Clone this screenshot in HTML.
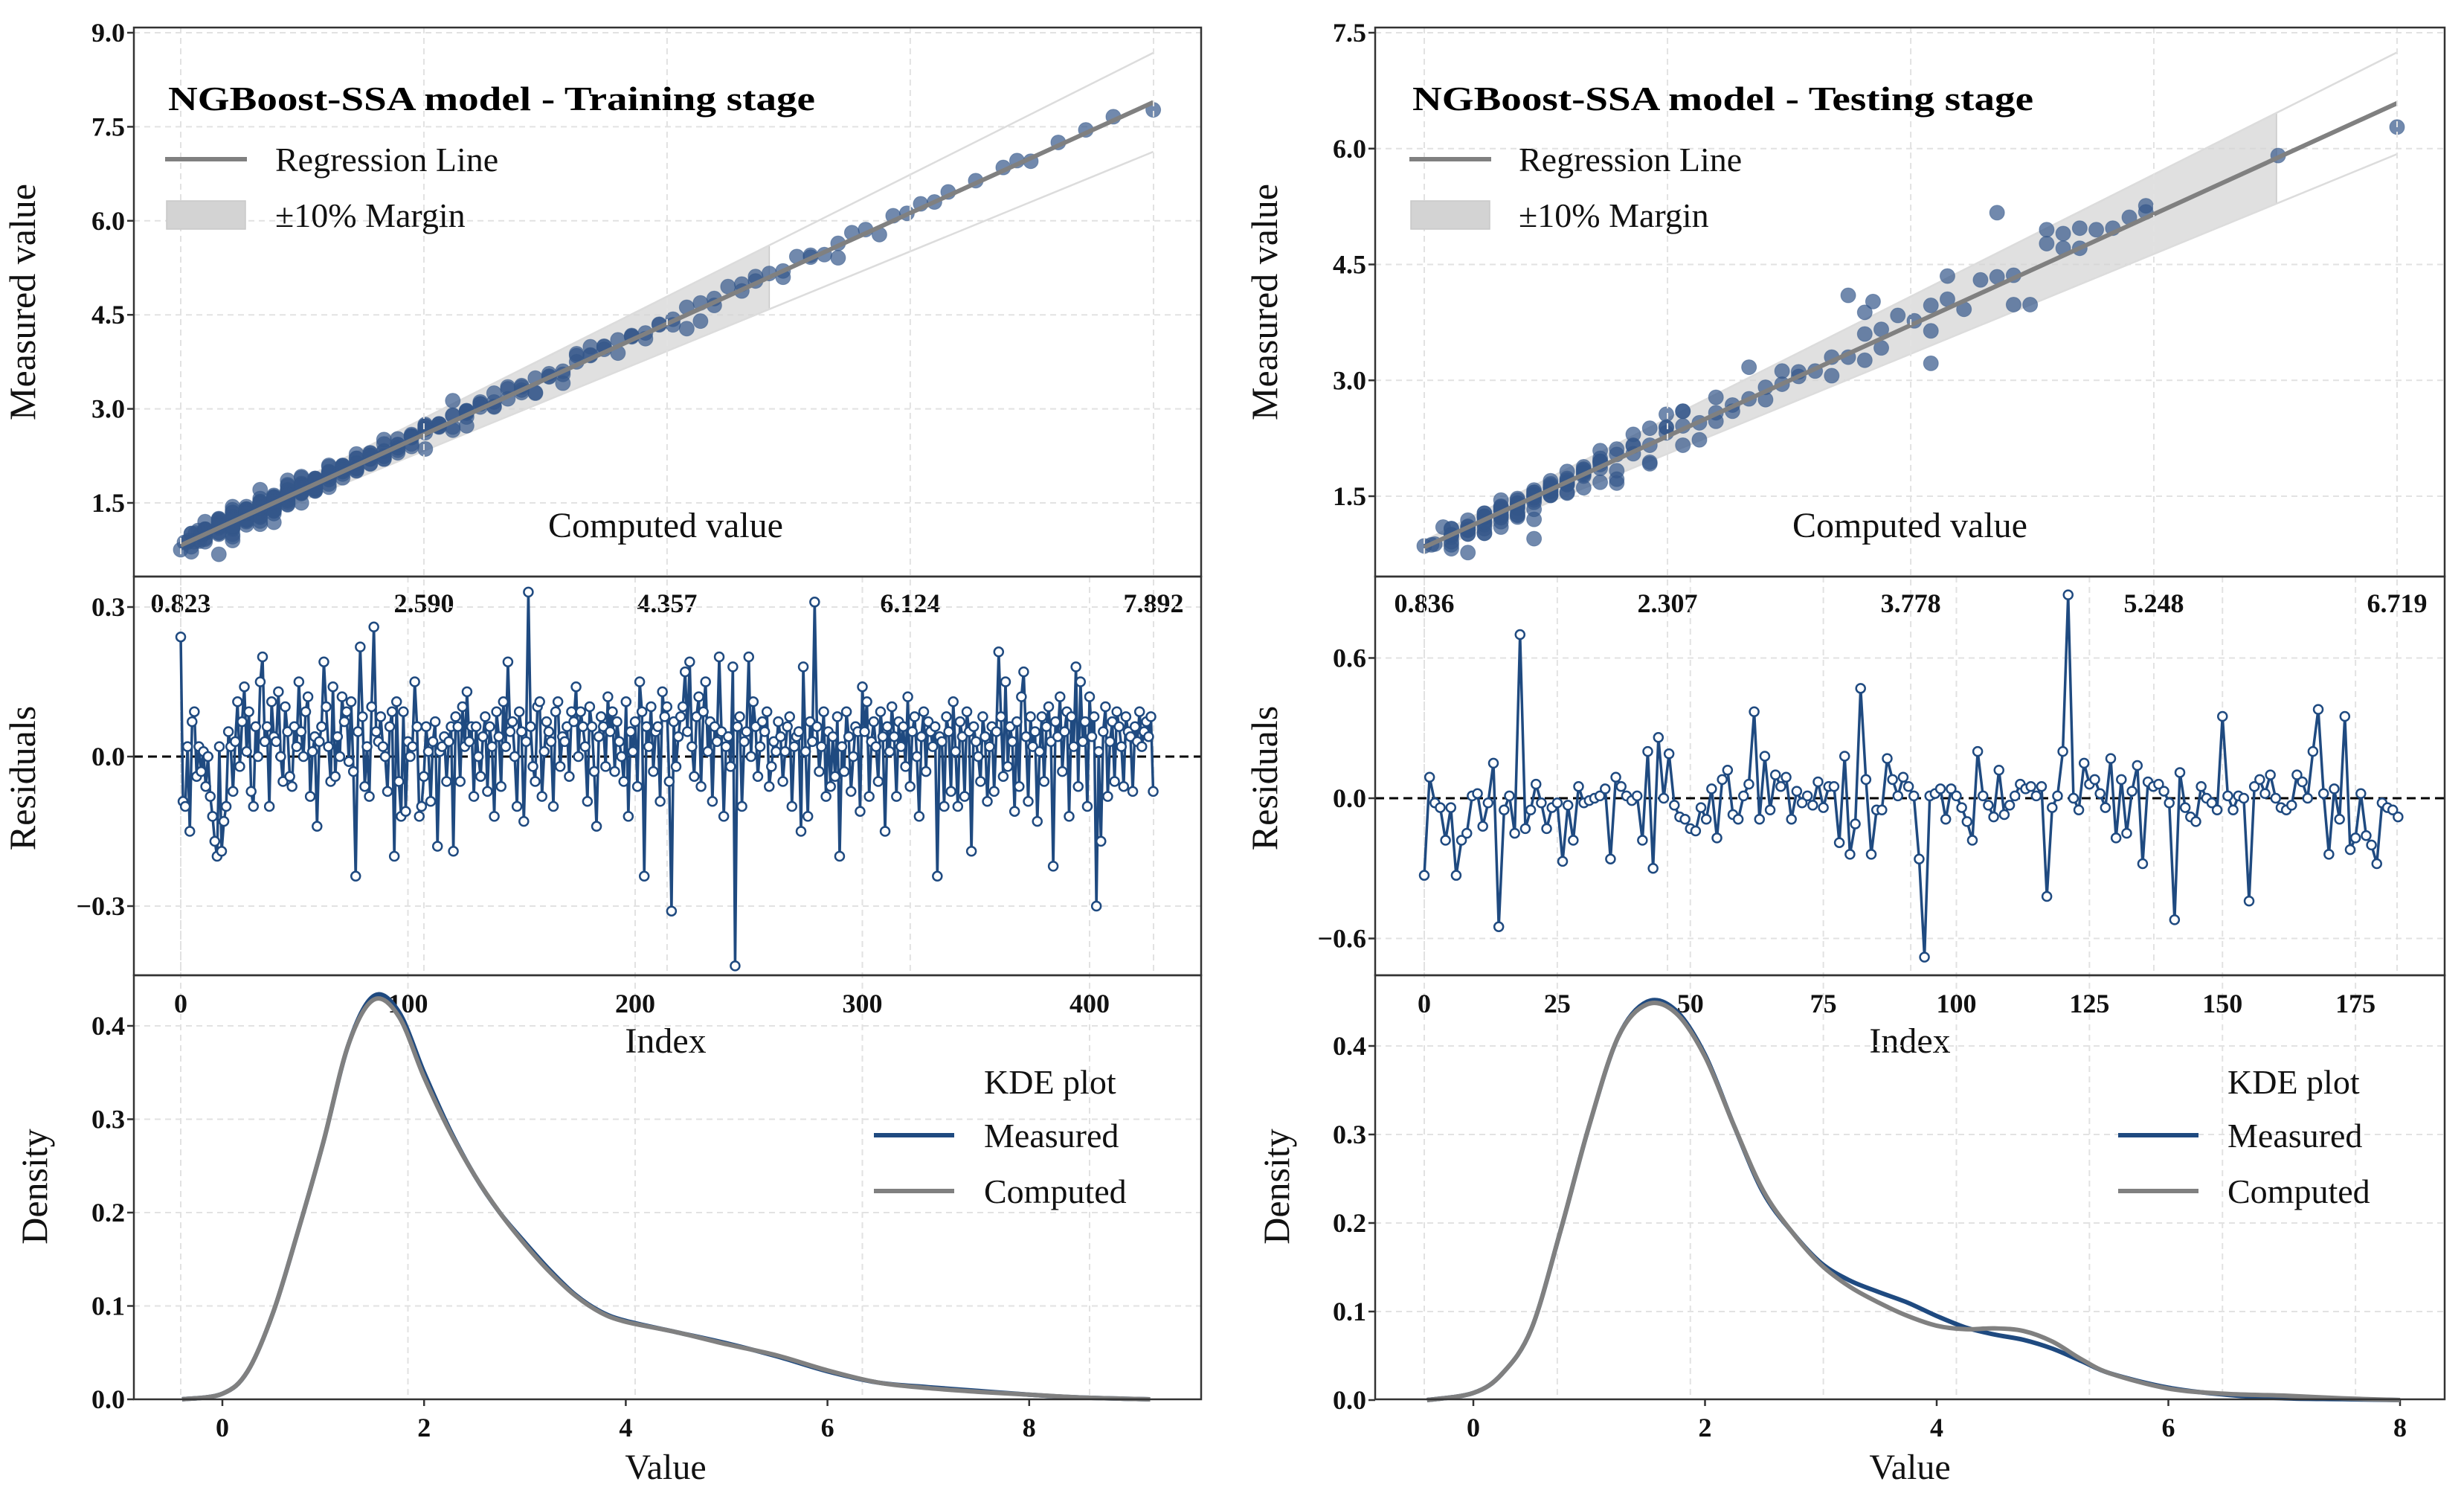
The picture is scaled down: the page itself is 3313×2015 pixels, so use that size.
<!DOCTYPE html>
<html><head><meta charset="utf-8"><title>NGBoost-SSA results</title>
<style>html,body{margin:0;padding:0;background:#fff}svg{display:block}text{font-family:"Liberation Serif",serif}</style>
</head><body>
<svg id="fig" xmlns="http://www.w3.org/2000/svg" width="3313" height="2015" viewBox="0 0 3313 2015"></svg>
<script>
// ---------- DATA ----------
const trainResiduals=[.24,-.09,-.1,.02,-.15,.07,.09,-.04,.02,-.03,.01,-.06,.0,-.08,-.12,-.17,-.2,.02,-.19,-.13,
-.1,.05,.02,-.07,.03,.11,-.02,.07,.14,.01,.09,-.07,-.1,.06,.0,.15,.2,.03,.06,-.1,
.11,.04,.03,.13,.0,-.05,.1,.05,-.04,-.06,.06,.02,.15,.05,.0,.09,.12,-.08,.01,.04,
-.14,.03,.06,.19,.1,.02,-.05,.14,-.04,.04,.0,.12,.07,.09,-.01,.11,-.03,-.24,.05,.22,
.08,-.06,.02,-.08,.1,.26,.05,.03,.08,.02,.0,-.07,.06,.09,-.2,.11,-.05,-.12,.09,-.11,
.03,.0,.02,.15,.06,-.12,-.1,-.04,.06,.01,-.09,.03,.07,-.18,.01,.02,.04,-.05,.03,.06,
-.19,.08,.06,-.05,.1,.02,.13,.03,.06,-.08,.06,.0,-.04,.04,.08,-.07,.06,.02,-.12,.09,
.04,-.06,.11,.02,.19,.05,.07,.0,-.1,.09,.05,-.13,.03,.33,.06,-.02,-.05,.1,.11,-.08,
.01,.07,.05,.03,-.1,.09,.11,-.02,.04,.03,.06,-.04,.09,.07,.14,.0,.09,.06,.02,-.09,
.1,.06,-.03,-.14,.04,.08,.06,-.02,.12,.05,.09,-.03,.07,.03,.0,-.05,.11,-.12,.05,.01,
.07,-.06,.15,.09,-.24,.06,.02,.1,-.03,.05,.06,-.09,.13,.08,.1,-.05,-.31,.07,-.02,.04,
.08,.1,.17,.05,.19,.02,-.04,.08,.12,-.06,.09,.15,.01,.07,-.09,.06,.03,.2,.05,-.12,
.02,.04,-.02,.18,-.42,.06,.08,-.1,.03,.05,.2,.0,.11,.06,-.04,.02,.07,.05,.09,-.06,
-.02,.03,.01,.07,.04,-.05,.01,.06,.08,-.1,.02,.04,.05,-.15,.18,.01,-.12,.07,.03,.31,
.06,-.03,.02,.09,-.08,.05,-.06,.04,-.04,.08,-.2,.02,-.03,.09,.04,-.07,.0,.06,.05,-.11,
.14,.05,.11,-.08,.03,.07,.02,-.05,.09,.04,-.15,.06,.01,.1,.04,-.08,.07,.02,.06,-.02,
.12,-.06,.05,.08,.0,-.12,.04,.09,-.03,.07,.05,.02,.06,-.24,.04,.03,-.1,.08,.05,-.07,
.11,.01,-.1,.07,.04,-.08,.09,.05,-.19,.06,.03,.0,-.05,.08,.04,-.09,.02,.06,-.07,.05,
.21,.08,-.04,.15,-.02,.06,.03,-.11,.07,-.06,.12,.17,.04,-.09,.08,.02,.05,-.13,.01,.08,
-.05,.06,.1,.03,-.22,.07,.04,.12,-.03,.05,.09,-.12,.08,.02,.18,-.06,.15,.03,.07,-.1,
.12,.04,.08,-.3,.01,-.17,.05,.1,-.08,.03,.07,-.05,.09,.06,.02,-.06,.08,.05,.04,-.07,
.06,.03,.09,.02,.05,.07,.04,.08,-.07];
const trainComputed=[1.2,2.1,0.9,1.6,3.4,1.1,2.6,1.4,0.85,1.8,4.2,1.3,2.0,1.0,1.5,2.9,1.7,1.2,5.6,1.4,
2.3,1.0,1.6,3.1,1.3,0.95,1.9,2.5,1.1,1.5,4.6,1.8,1.2,2.2,1.4,3.7,1.0,1.6,2.7,1.3,
0.9,1.7,2.4,1.1,6.3,1.5,2.0,1.2,3.3,1.4,1.8,0.88,2.6,1.3,1.6,4.9,1.1,2.1,1.5,1.0,
2.8,1.4,1.7,1.2,3.9,1.9,1.3,2.3,0.92,1.6,5.2,1.5,2.0,1.1,1.8,3.0,1.4,1.2,2.5,1.7,
1.0,4.4,1.5,2.2,1.3,1.6,7.4,1.1,1.9,2.7,1.4,0.96,3.5,1.7,1.2,2.1,1.5,5.9,1.3,1.8,
2.4,1.1,1.6,3.2,1.4,1.0,2.0,1.7,4.1,1.2,1.5,2.9,1.3,0.9,1.8,2.3,6.6,1.4,1.6,1.1,
3.6,1.9,1.3,2.1,1.5,1.0,2.6,1.7,4.7,1.2,1.4,2.2,0.95,1.6,3.0,1.8,1.3,5.4,1.5,2.0,
1.1,2.5,1.4,1.7,3.8,1.2,1.9,0.87,2.3,1.5,4.3,1.6,1.3,2.8,1.0,1.8,7.0,1.4,2.1,1.2,
1.6,3.3,1.5,1.0,2.4,1.7,5.0,1.3,1.9,1.1,2.7,1.4,3.9,1.6,1.2,2.0,0.93,1.5,6.1,1.8,
2.2,1.3,1.7,3.4,1.4,1.1,2.5,1.6,4.5,1.2,1.9,2.9,1.5,1.0,1.8,2.3,5.7,1.4,1.3,2.0,
1.5,3.1,1.2,1.8,2.6,1.4,0.98,4.0,1.7,1.3,2.2,1.6,5.3,1.1,1.9,3.6,1.5,1.2,2.4,1.7,
1.0,2.8,1.4,6.8,1.6,1.3,2.1,1.8,3.2,1.5,1.1,4.8,1.7,2.5,1.2,1.4,3.0,1.9,1.6,7.89,
1.3,2.0,1.5,3.7,1.1,1.8,2.6,1.4,4.4,1.2,1.7,2.2,0.9,1.6,5.5,1.5,2.9,1.3,1.9,1.0,
2.4,1.6,3.5,1.2,1.8,2.1,1.4,6.4,1.5,1.1,2.7,1.7,4.1,1.3,1.9,3.1,1.6,1.2,2.3,1.4,
5.1,1.8,1.0,2.5,1.5,3.8,1.3,1.7,2.0,1.4,4.6,1.2,1.9,2.8,1.6,1.1,3.3,1.5,7.2,1.8,
1.3,2.2,1.6,4.2,1.4,1.0,2.6,1.7,3.4,1.2,1.9,5.8,1.5,1.3,2.1,1.8,2.9,1.1,1.6,4.9,
1.4,2.4,1.7,1.2,3.6,1.5,0.97,2.0,1.8,6.2,1.3,1.6,2.7,1.4,4.3,1.1,1.9,3.0,1.5,2.2,
1.7,1.2,5.2,1.6,2.5,1.3,1.8,3.9,1.4,1.0,2.1,1.5,4.7,1.7,1.2,2.8,1.6,6.9,1.3,1.9,
2.3,1.4,3.2,1.1,1.7,2.0,1.5,4.0,1.3,1.8,2.6,1.6,5.6,1.2,1.4,3.5,1.9,1.5,2.2,1.0,
1.6,2.9,1.3,1.8,4.5,1.4,1.1,2.4,1.7,3.7,1.5,1.2,6.0,1.9,2.1,1.6,3.1,1.3,1.8,2.5,
1.4,5.0,1.7,1.2,2.7,1.5,3.3,1.6,1.1,2.0,4.1,1.8,1.3,7.6,1.5,2.3,1.4,2.9,1.7,1.2,
3.8,1.6,2.2,1.4,5.4,1.9,1.3,2.6,0.823];
const testResiduals=[-.33,.09,-.02,-.04,-.18,-.04,-.33,-.18,-.15,.01,.02,-.12,-.02,.15,-.55,-.05,.01,-.15,.70,-.13,
-.05,.06,-.02,-.13,-.04,-.02,-.27,-.03,-.18,.05,-.02,-.01,.0,.01,.04,-.26,.09,.05,.01,-.01,
.01,-.18,.2,-.3,.26,.0,.19,-.03,-.08,-.09,-.13,-.14,-.04,-.09,.04,-.17,.08,.12,-.07,-.09,
.01,.06,.37,-.09,.18,-.05,.1,.05,.09,-.09,.03,-.02,.01,-.03,.07,-.04,.05,.05,-.19,.18,
-.24,-.11,.47,.08,-.24,-.05,-.05,.17,.08,.01,.09,.05,.01,-.26,-.68,.01,.02,.04,-.09,.04,
.01,-.04,-.1,-.18,.2,.01,-.03,-.08,.12,-.07,-.03,.01,.06,.04,.05,.01,.05,-.42,-.04,.01,
.2,.87,.0,-.05,.15,.06,.08,.02,-.04,.17,-.17,.08,-.15,.03,.14,-.28,.07,.05,.06,.03,
-.02,-.52,.11,-.04,-.08,-.1,.05,.0,-.02,-.05,.35,.01,-.05,.01,.0,-.44,.05,.08,.02,.1,
.0,-.04,-.05,-.03,.1,.07,.0,.2,.38,.02,-.24,.04,-.09,.35,-.22,-.17,.02,-.16,-.2,-.28,
-.02,-.04,-.05,-.08];
const testComputed=[1.1,2.3,0.9,1.6,3.6,1.3,2.0,1.0,1.4,4.7,1.8,1.2,2.7,0.95,1.5,3.1,1.1,1.7,3.4,1.3,
2.1,1.6,5.2,1.0,1.9,1.4,2.5,1.2,4.1,1.5,1.8,0.88,3.3,1.3,1.6,2.2,1.1,4.9,1.4,1.7,
2.9,1.2,2.4,1.5,2.3,1.0,1.9,3.8,1.3,1.6,2.6,1.4,4.4,1.1,1.8,2.0,1.5,3.0,1.2,6.0,
1.6,1.3,2.8,1.0,2.2,1.7,3.5,1.4,1.9,4.8,1.2,1.5,2.4,1.1,3.9,1.6,1.3,2.1,1.8,2.6,
3.3,1.4,3.55,1.0,3.5,1.7,1.5,4.6,1.2,1.9,2.3,1.5,5.1,3.9,3.9,1.3,1.6,2.0,1.1,4.3,
1.4,1.8,2.7,1.2,2.4,1.5,1.0,3.2,1.7,1.3,5.0,1.6,2.1,1.2,4.0,1.5,1.9,4.4,1.1,1.4,
4.7,4.3,1.6,2.5,1.3,3.6,1.8,1.2,2.2,4.8,1.5,1.0,2.9,1.7,3.7,2.2,1.4,1.9,5.2,1.3,
1.6,4.5,2.0,1.2,1.5,3.4,1.8,1.1,2.6,1.4,4.6,1.7,1.3,3.1,1.5,6.719,1.9,1.2,2.3,1.6,
1.0,2.8,1.4,1.7,4.2,1.3,1.8,2.1,3.5,1.5,2.4,1.2,1.6,4.0,1.9,1.4,0.836,1.7,1.3,2.0,
1.5,1.1,3.0,1.6];
const trainTopTicks=["0.823","2.590","4.357","6.124","7.892"];
const testTopTicks=["0.836","2.307","3.778","5.248","6.719"];
const trainYTicks=[1.5,3.0,4.5,6.0,7.5,9.0];
const testYTicks=[1.5,3.0,4.5,6.0,7.5];
const trainResTicks=[-0.3,0.0,0.3];
const testResTicks=[-0.6,0.0,0.6];
const trainIndexTicks=[0,100,200,300,400];
const testIndexTicks=[0,25,50,75,100,125,150,175];
const densityTicks=[0.0,0.1,0.2,0.3,0.4];
const valueTicks=[0,2,4,6,8];
const trainRegression=[0.0,1.0];   // intercept, slope
const testRegression=[0.023,0.977];
const trainShadeEnd=[5.1];
const testShadeEnd=[5.99];
const trainKdeX=[-0.4,0,0.25,0.5,0.75,1,1.25,1.5,1.75,2,2.25,2.5,2.75,3,3.25,3.5,3.75,4,4.5,5,5.5,6,6.5,7,7.5,8,8.5,9.2];
const trainKdeMeasured=[0,.006,.03,.092,.18,.275,.38,.432,.415,.35,.29,.24,.2,.168,.138,.112,.094,.084,.072,.06,.046,.03,.018,.013,.009,.005,.002,0];
const trainKdeComputed=[0,.006,.03,.092,.18,.275,.38,.428,.41,.345,.288,.24,.2,.166,.136,.111,.093,.083,.072,.059,.047,.031,.018,.012,.008,.005,.002,0];
const testKdeX=[-0.4,0,0.25,0.5,0.75,1,1.25,1.5,1.75,2,2.25,2.5,2.75,3,3.25,3.5,3.75,4,4.25,4.5,4.75,5,5.25,5.5,6,6.5,7,7.5,8];
const testKdeMeasured=[0,.008,.03,.08,.19,.31,.41,.45,.44,.39,.31,.235,.19,.155,.135,.122,.11,.095,.082,.074,.068,.058,.044,.03,.014,.006,.002,.001,0];
const testKdeComputed=[0,.008,.03,.08,.19,.31,.41,.447,.437,.388,.31,.237,.19,.153,.128,.11,.095,.084,.08,.081,.078,.066,.046,.03,.013,.007,.005,.002,0];

// ---------- DRAW ----------
const NS="http://www.w3.org/2000/svg";
const svg=document.getElementById('fig');
function mk(tag,attrs,parent){const e=document.createElementNS(NS,tag);for(const k in attrs)e.setAttribute(k,attrs[k]);(parent||svg).appendChild(e);return e;}
function txt(s,attrs,parent){const t=mk('text',attrs,parent);t.textContent=s;return t;}
function lin(a,b,c,d){return v=>c+(v-a)*(d-c)/(b-a);}
function smooth(pts){let d='M'+pts[0][0]+','+pts[0][1];for(let i=0;i<pts.length-1;i++){const p0=pts[Math.max(0,i-1)],p1=pts[i],p2=pts[i+1],p3=pts[Math.min(pts.length-1,i+2)];
const c1=[p1[0]+(p2[0]-p0[0])/6,p1[1]+(p2[1]-p0[1])/6],c2=[p2[0]-(p3[0]-p1[0])/6,p2[1]-(p3[1]-p1[1])/6];d+=' C'+c1+' '+c2+' '+p2;}return d;}
const GRID='#e2e2e2',DARK='#1f4a80',FRAME='#333';
const BOLD={'font-size':36,'font-weight':'bold','fill':'#111'};

function panel(P){
  const g=mk('g',{});
  
  
  const {x0,x1}=P;
  // ===== Scatter =====
  const sx=lin(P.topX[0],P.topX[1],P.topPx[0],P.topPx[1]);
  const sy=lin(P.topY[0],P.topY[1],P.topPy[0],P.topPy[1]);
  const yT=37,yM=775,yR=1311,yB=1881;
  const sg=mk('g',{'clip-path':'url(#clip-'+P.name+'-top)'},g);
  const cp=mk('clipPath',{id:'clip-'+P.name+'-top'},g);mk('rect',{x:x0,y:yT,width:x1-x0,height:yM-yT},cp);
  P.yTicks.forEach(v=>{const l=mk('line',{x1:x0,x2:x1,y1:sy(v),y2:sy(v),stroke:GRID,'stroke-width':2,'stroke-dasharray':'8,6'},sg);
    });
  const xs=P.comp.slice().sort((a,b)=>a-b);const xmin=xs[0],xmax=xs[xs.length-1];
  const tickVals=P.topTicks.map(Number);
  tickVals.forEach(v=>{mk('line',{x1:sx(v),x2:sx(v),y1:yT,y2:yR,stroke:GRID,'stroke-width':2,'stroke-dasharray':'8,6'},g);});
  const reg=v=>P.reg[0]+P.reg[1]*v;
  const se=P.shade[0];
  const band=mk('polygon',{points:[[sx(xmin),sy(reg(xmin)*1.1)],[sx(se),sy(reg(se)*1.1)],[sx(se),sy(reg(se)*0.9)],[sx(xmin),sy(reg(xmin)*0.9)]].map(p=>p.join(',')).join(' '),fill:'#d3d3d3','fill-opacity':0.7,stroke:'#c8c8c8','stroke-width':1.5},sg);
  
  [1.1,0.9].forEach(f=>{const l=mk('line',{x1:sx(xmin),y1:sy(reg(xmin)*f),x2:sx(xmax),y2:sy(reg(xmax)*f),stroke:'#dcdcdc','stroke-width':2.5},sg);
    });
  P.comp.forEach((c,i)=>{const m=c+P.res[i];const p=mk('circle',{cx:sx(c),cy:sy(m),r:10,fill:'#34578a','fill-opacity':0.7,stroke:'#34578a','stroke-opacity':0.5,'stroke-width':1},sg);
    });
  const rl=mk('line',{x1:sx(xmin),y1:sy(reg(xmin)),x2:sx(xmax),y2:sy(reg(xmax)),stroke:'#808080','stroke-width':6},sg);
  
  P.yTicks.forEach(v=>{mk('line',{x1:x0-9,x2:x0,y1:sy(v),y2:sy(v),stroke:FRAME,'stroke-width':2.5},g);
    const t=txt(v.toFixed(1),Object.assign({x:x0-12,y:sy(v)+12,'text-anchor':'end'},BOLD),g);});
  tickVals.forEach((v,i)=>{const t=txt(P.topTicks[i],Object.assign({x:sx(v),y:823,'text-anchor':'middle'},BOLD),g);});
  // legend
  const tt=txt(P.title,{x:P.lg[0],y:148,'font-size':46,'font-weight':'bold',fill:'#000',textLength:P.titleLen,lengthAdjust:'spacingAndGlyphs'},g);
  
  mk('line',{x1:P.lg[0]-4,x2:P.lg[0]+106,y1:214,y2:214,stroke:'#808080','stroke-width':6},g);
  let t=txt('Regression Line',{x:P.lg[1],y:230,'font-size':46,fill:'#111'},g);
  mk('rect',{x:P.lg[0]-2,y:270,width:106,height:38,fill:'#d3d3d3',stroke:'#c8c8c8','stroke-width':1.5},g);
  t=txt('±10% Margin',{x:P.lg[1],y:305,'font-size':46,fill:'#111'},g);
  t=txt('Computed value',{x:P.cvx,y:722,'font-size':48,'text-anchor':'middle',fill:'#111'},g);
  t=txt('Measured value',{x:0,y:0,'font-size':50,'text-anchor':'middle',fill:'#111',transform:'translate('+(P.ylx+17)+',406) rotate(-90)'},g);

  // ===== Residuals =====
  const rx=lin(0,1,P.resPx[0],P.resPx[0]+P.resPx[1]);
  const ry=lin(0,1,P.resPy[0],P.resPy[0]-P.resPy[1]);
  P.resTicks.forEach(v=>{if(v!==0)mk('line',{x1:x0,x2:x1,y1:ry(v),y2:ry(v),stroke:GRID,'stroke-width':2,'stroke-dasharray':'8,6'},g);
    mk('line',{x1:x0-9,x2:x0,y1:ry(v),y2:ry(v),stroke:FRAME,'stroke-width':2.5},g);
    const t=txt((v<0?'\u2212':'')+Math.abs(v).toFixed(1),Object.assign({x:x0-12,y:ry(v)+12,'text-anchor':'end'},BOLD),g);});
  P.idxTicks.forEach(v=>{mk('line',{x1:rx(v),x2:rx(v),y1:yM,y2:yB,stroke:GRID,'stroke-width':2,'stroke-dasharray':'8,6'},g);
    const t=txt(String(v),Object.assign({x:rx(v),y:1361,'text-anchor':'middle'},BOLD),g);});
  const zl=mk('line',{x1:x0,x2:x1,y1:ry(0),y2:ry(0),stroke:'#000','stroke-width':3,'stroke-dasharray':'12,7'},g);
  
  const rp=mk('polyline',{points:P.res.map((r,i)=>rx(i)+','+ry(r)).join(' '),fill:'none',stroke:DARK,'stroke-width':3.5},g);
  
  P.res.forEach((r,i)=>{const c=mk('circle',{cx:rx(i),cy:ry(r),r:6,fill:'#fff',stroke:DARK,'stroke-width':2.5},g);
    });
  t=txt('Index',{x:P.cvx,y:1415,'font-size':48,'text-anchor':'middle',fill:'#111'},g);
  t=txt('Residuals',{x:0,y:0,'font-size':50,'text-anchor':'middle',fill:'#111',transform:'translate('+(P.ylx+17)+',1046) rotate(-90)'},g);

  // ===== KDE =====
  const kx=lin(0,1,P.kPx[0],P.kPx[0]+P.kPx[1]);
  const ky=lin(0,1,P.kPy[0],P.kPy[0]-P.kPy[1]);
  densityTicks.forEach(v=>{if(v>0)mk('line',{x1:x0,x2:x1,y1:ky(v),y2:ky(v),stroke:GRID,'stroke-width':2,'stroke-dasharray':'8,6'},g);
    mk('line',{x1:x0-9,x2:x0,y1:ky(v),y2:ky(v),stroke:FRAME,'stroke-width':2.5},g);
    const t=txt(v.toFixed(1),Object.assign({x:x0-12,y:ky(v)+12,'text-anchor':'end'},BOLD),g);});
  valueTicks.forEach(v=>{mk('line',{x1:kx(v),x2:kx(v),y1:yB,y2:yB+9,stroke:FRAME,'stroke-width':2.5},g);
    const t=txt(String(v),Object.assign({x:kx(v),y:1931,'text-anchor':'middle'},BOLD),g);});
  const pm=mk('path',{d:smooth(P.kX.map((x,i)=>[kx(x),ky(P.kM[i])])),fill:'none',stroke:DARK,'stroke-width':6},g);
  
  const pc=mk('path',{d:smooth(P.kX.map((x,i)=>[kx(x),ky(P.kC[i])])),fill:'none',stroke:'#808080','stroke-width':6},g);
  
  t=txt('KDE plot',{x:P.kl[1],y:1470,'font-size':46,fill:'#111'},g);
  mk('line',{x1:P.kl[0],x2:P.kl[0]+108,y1:1526,y2:1526,stroke:DARK,'stroke-width':6},g);
  t=txt('Measured',{x:P.kl[1],y:1542,'font-size':46,fill:'#111'},g);
  mk('line',{x1:P.kl[0],x2:P.kl[0]+108,y1:1601,y2:1601,stroke:'#808080','stroke-width':6},g);
  t=txt('Computed',{x:P.kl[1],y:1617,'font-size':46,fill:'#111'},g);
  t=txt('Value',{x:P.cvx,y:1988,'font-size':48,'text-anchor':'middle',fill:'#111'},g);
  t=txt('Density',{x:0,y:0,'font-size':50,'text-anchor':'middle',fill:'#111',transform:'translate('+(P.ylx+33)+',1595) rotate(-90)'},g);

  // frames
  [[yT,yM],[yM,yR],[yR,yB]].forEach(([a,b])=>{const r=mk('rect',{x:x0,y:a,width:x1-x0,height:b-a,fill:'none',stroke:FRAME,'stroke-width':2.5},g);
    });
}

panel({name:'training',x0:180,x1:1615,comp:trainComputed,res:trainResiduals,
  topX:[0.823,7.892],topPx:[243,1551],topY:[1.5,9.0],topPy:[676,44],yTicks:trainYTicks,topTicks:trainTopTicks,
  reg:trainRegression,shade:trainShadeEnd,title:'NGBoost-SSA model - Training stage',titleLen:870,lg:[226,370],cvx:895,ylx:30,
  resPx:[243,3.055],resPy:[1017,670],resTicks:trainResTicks,idxTicks:trainIndexTicks,
  kPx:[299,135.6],kPy:[1881,1255],kX:trainKdeX,kM:trainKdeMeasured,kC:trainKdeComputed,kl:[1175,1323]});
panel({name:'testing',x0:1849,x1:3287,comp:testComputed,res:testResiduals,
  topX:[0.836,6.719],topPx:[1915,3223],topY:[1.5,7.5],topPy:[667,44],yTicks:testYTicks,topTicks:testTopTicks,
  reg:testRegression,shade:testShadeEnd,title:'NGBoost-SSA model - Testing stage',titleLen:835,lg:[1899,2042],cvx:2568,ylx:1700,
  resPx:[1915,7.155],resPy:[1073,314.2],resTicks:testResTicks,idxTicks:testIndexTicks,
  kPx:[1981,155.75],kPy:[1882,1190],kX:testKdeX,kM:testKdeMeasured,kC:testKdeComputed,kl:[2848,2995]});
</script>
</body></html>
